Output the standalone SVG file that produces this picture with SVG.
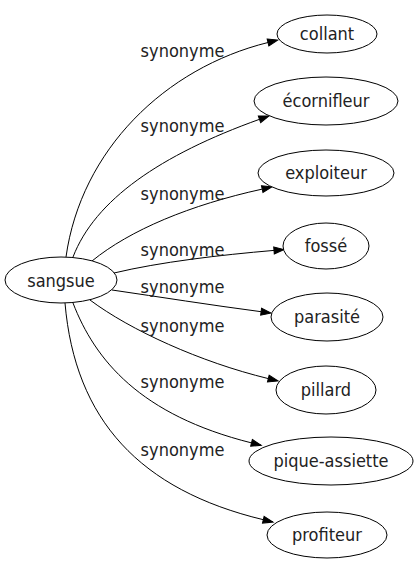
<svg xmlns="http://www.w3.org/2000/svg" width="417" height="563" viewBox="0 0 417 563">
<defs>
<style>
.node ellipse{fill:#fff;stroke:#000;stroke-width:1}
text{font-family:"DejaVu Sans Condensed","DejaVu Sans",sans-serif;font-stretch:condensed;font-size:18px;fill:#222}
.node text{text-anchor:middle}
.lbl{text-anchor:middle}
.edges path{fill:none;stroke:#000;stroke-width:1}
</style>
<marker id="arr" markerUnits="userSpaceOnUse" markerWidth="12" markerHeight="10" refX="0" refY="3.5" orient="auto" overflow="visible">
<path d="M0,0 L10,3.5 L0,7 z" fill="#000" stroke="#000" stroke-width="1"/>
</marker>
</defs>
<rect width="417" height="563" fill="#fff"/>
<g class="edges" id="edges">
<path marker-end="url(#arr)" d="M66,257 C81,150 165,68 268,42.5"/>
<path marker-end="url(#arr)" d="M73,257 C95,200 160,155 259.5,119.3"/>
<path marker-end="url(#arr)" d="M92,261 C130,230 190,205 262.2,189.1"/>
<path marker-end="url(#arr)" d="M114,273 C160,262 220,255 274,250.4"/>
<path marker-end="url(#arr)" d="M112,290 C160,297 210,305 261.1,311.7"/>
<path marker-end="url(#arr)" d="M90,300 C130,330 200,362 268.3,378.6"/>
<path marker-end="url(#arr)" d="M73,303 C95,360 140,415 251.5,442.9"/>
<path marker-end="url(#arr)" d="M65,303 C75,420 140,490 263.3,519.7"/>
<text class="lbl" x="182.5" y="57">synonyme</text>
<text class="lbl" x="182.5" y="132">synonyme</text>
<text class="lbl" x="182.5" y="200">synonyme</text>
<text class="lbl" x="182.5" y="256">synonyme</text>
<text class="lbl" x="182.5" y="293">synonyme</text>
<text class="lbl" x="182.5" y="332">synonyme</text>
<text class="lbl" x="182.5" y="388">synonyme</text>
<text class="lbl" x="182.5" y="456">synonyme</text>
</g>
<g class="node" id="n-sangsue"><ellipse cx="61" cy="280" rx="56" ry="23"/><text x="61" y="287">sangsue</text></g>
<g class="node" id="n-collant"><ellipse cx="327" cy="34" rx="50" ry="19"/><text x="327" y="40">collant</text></g>
<g class="node" id="n-ecornifleur"><ellipse cx="326" cy="101" rx="72" ry="24"/><text x="326" y="107">écornifleur</text></g>
<g class="node" id="n-exploiteur"><ellipse cx="326" cy="173" rx="68" ry="23"/><text x="326" y="179">exploiteur</text></g>
<g class="node" id="n-fosse"><ellipse cx="326" cy="246" rx="43" ry="23"/><text x="326" y="252">fossé</text></g>
<g class="node" id="n-parasite"><ellipse cx="327" cy="317" rx="56" ry="24"/><text x="327" y="323">parasité</text></g>
<g class="node" id="n-pillard"><ellipse cx="326" cy="390" rx="50" ry="24"/><text x="326" y="396">pillard</text></g>
<g class="node" id="n-pique-assiette"><ellipse cx="331" cy="461" rx="82" ry="24"/><text x="331" y="467">pique-assiette</text></g>
<g class="node" id="n-profiteur"><ellipse cx="327" cy="535" rx="60" ry="23"/><text x="327" y="541">profiteur</text></g>
</svg>
